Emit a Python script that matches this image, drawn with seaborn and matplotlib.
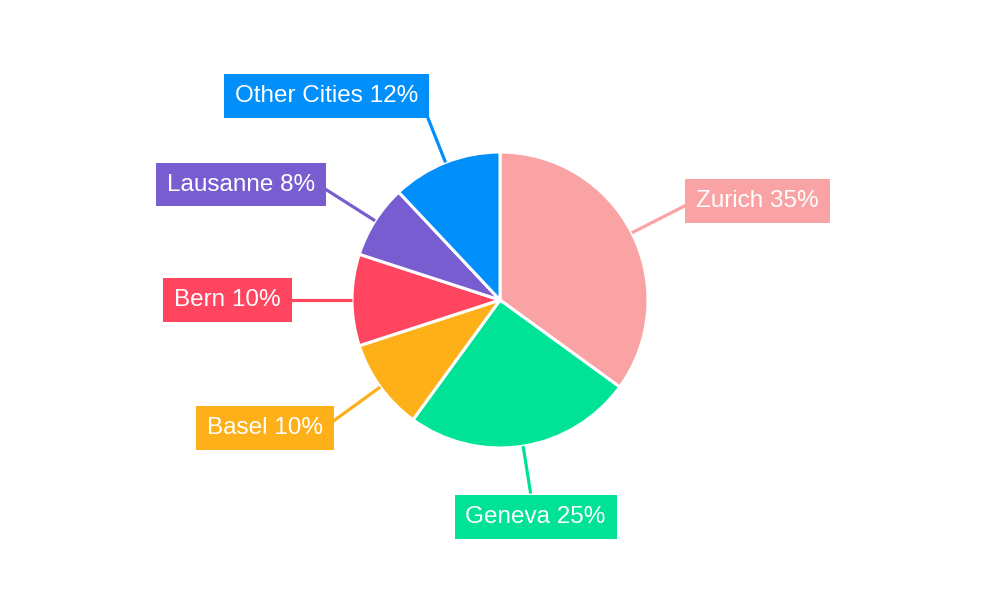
import numpy as np
import matplotlib
matplotlib.use("Agg")
import matplotlib.pyplot as plt
import seaborn as sns

cities = ["Zurich", "Geneva", "Basel", "Bern", "Lausanne", "Other Cities"]
shares = [35, 25, 10, 10, 8, 12]
colors = ["#F9A3A4", "#00E396", "#FEB019", "#FF4560", "#775DD0", "#008FFB"]

sns.set_theme(style="white")
plt.rcParams["font.family"] = ["Liberation Sans", "DejaVu Sans"]

fig = plt.figure(figsize=(10, 6), dpi=100)
ax = fig.add_axes([0, 0, 1, 1])

# pixel-like data space: 1 unit = 1 px, y up
cx, cy, radius = 500, 300, 148
palette = sns.color_palette(colors)

ax.pie(
    shares,
    colors=palette,
    startangle=90,
    counterclock=False,
    center=(cx, cy),
    radius=radius,
    wedgeprops=dict(edgecolor="white", linewidth=2.2),
)
ax.set_xlim(0, 1000)
ax.set_ylim(0, 600)
ax.set_aspect("equal")
ax.axis("off")

# label placement: anchor on a ray through each slice middle
total = sum(shares)
cum = np.cumsum([0] + shares[:-1])
align = {
    "Zurich": ("left", "center"),
    "Geneva": ("center", "top"),
    "Basel": ("right", "center"),
    "Bern": ("right", "center"),
    "Lausanne": ("right", "center"),
    "Other Cities": ("right", "bottom"),
}
label_r = {"Zurich": 210, "Geneva": 196, "Basel": 208, "Bern": 210,
           "Lausanne": 208, "Other Cities": 200}
pad = 9

for name, val, start, col in zip(cities, shares, cum, colors):
    theta = np.deg2rad((start + val / 2) / total * 360)
    dx, dy = np.sin(theta), np.cos(theta)
    r2 = label_r[name]
    x0, y0 = cx + radius * dx, cy + radius * dy
    x1, y1 = cx + r2 * dx, cy + r2 * dy
    ax.plot([x0, x1], [y0, y1], color=col, lw=2.3, solid_capstyle="butt", zorder=3)

    ha, va = align[name]
    tx, ty = x1, y1
    if ha == "left":
        tx += pad
    elif ha == "right":
        tx -= pad
    if va == "top":
        ty -= pad + 3
    elif va == "bottom":
        ty += pad + 3
    if name == "Other Cities":
        tx += 1
        ty -= 5
    if va == "center":
        ty += 4 if name in ("Zurich", "Lausanne") else 0
        if name == "Basel":
            ty -= 6
    if name == "Geneva":
        tx += 5
    ax.text(
        tx, ty, f"{name} {val}%",
        ha=ha, va=va, color="white", fontsize=17.5, zorder=4,
        bbox=dict(boxstyle="square,pad=0.45", facecolor=col, edgecolor="none"),
    )

fig.savefig("out.png", dpi=100, facecolor="white")
